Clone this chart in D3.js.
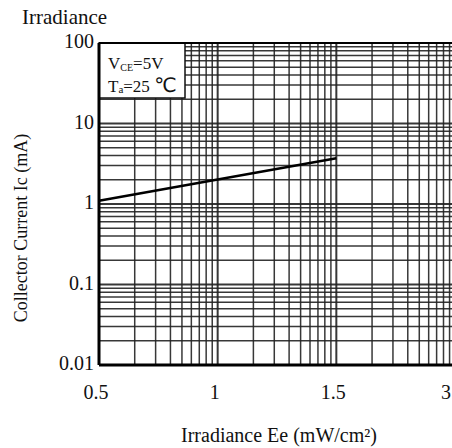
<!DOCTYPE html>
<html>
<head>
<meta charset="utf-8">
<script src="https://cdn.jsdelivr.net/npm/d3@7"></script>
<style>
  html, body { margin: 0; padding: 0; background: #fff; }
  svg { display: block; }
  text { font-family: "Liberation Serif", "Times New Roman", serif; fill: #111; }
</style>
</head>
<body>
<svg id="chart" width="452" height="448"></svg>
<script>
// ---- data ----
const xTickValues = [0.5, 1, 1.5, 3];
const xTickLabels = ["0.5", "1", "1.5", "3"];
const yTickValues = [0.01, 0.1, 1, 10, 100];
const yTickLabels = ["0.01", "0.1", "1", "10", "100"];
const curveX = [0.5, 1.5];
const curveY = [1.1, 3.7];
const title = "Irradiance";
const xTitle = "Irradiance Ee (mW/cm²)";
const yTitle = "Collector Current Ic (mA)";

// ---- layout ----
const L = 99, R = 455, T = 43, B = 365, W = 452;
const svg = d3.select("#chart");

// log grid scale for x (each labelled tick sits on a decade line)
const xGrid = d3.scaleLog().domain([1, 1000]).range([L, R]);
const xDecades = [1, 10, 100, 1000];
const x = d3.scaleLinear().domain(xTickValues).range(xDecades.map(d => xGrid(d)));
const y = d3.scaleLog().domain([0.01, 100]).range([B, T]);

svg.append("clipPath").attr("id", "plotclip")
  .append("rect").attr("x", L).attr("y", T).attr("width", R - L).attr("height", B - T);

const g = svg.append("g").attr("clip-path", "url(#plotclip)");

// vertical grid
const xg = xGrid.ticks();
g.selectAll("line.vx").data(xg).join("line")
  .attr("x1", d => xGrid(d)).attr("x2", d => xGrid(d))
  .attr("y1", T).attr("y2", B)
  .attr("stroke", "#222").attr("stroke-width", d => xDecades.includes(d) ? 2 : 1.5)
  .attr("stroke-opacity", 0.9);

// horizontal grid
const yg = y.ticks();
g.selectAll("line.hy").data(yg).join("line")
  .attr("x1", L).attr("x2", R)
  .attr("y1", d => y(d)).attr("y2", d => y(d))
  .attr("stroke", "#222").attr("stroke-width", d => yTickValues.includes(d) ? 2 : 1.5)
  .attr("stroke-opacity", 0.9);

// annotation box
const box = svg.append("g");
box.append("rect").attr("x", L).attr("y", T).attr("width", 86).attr("height", 55)
  .attr("fill", "#fff").attr("stroke", "#111").attr("stroke-width", 1.5);
const t1 = box.append("text").attr("x", 108).attr("y", 69).attr("font-size", 17);
t1.append("tspan").text("V");
t1.append("tspan").attr("font-size", 10).attr("dy", 2).text("CE");
t1.append("tspan").attr("dy", -2).text("=5V");
const t2 = box.append("text").attr("x", 108).attr("y", 92).attr("font-size", 17);
t2.append("tspan").text("T");
t2.append("tspan").attr("font-size", 11).attr("dy", 1).text("a");
t2.append("tspan").attr("dy", -1).text("=25 ");
t2.append("tspan").attr("font-size", 20).attr("font-family", "DejaVu Sans").text("℃");

// curve
const line = d3.line().x(d => x(d[0])).y(d => y(d[1]));
svg.append("path").datum(curveX.map((v, i) => [v, curveY[i]]))
  .attr("d", line).attr("fill", "none").attr("stroke", "#000").attr("stroke-width", 2.6);

// axes frame
svg.append("line").attr("x1", L).attr("x2", R).attr("y1", T).attr("y2", T)
  .attr("stroke", "#000").attr("stroke-width", 2.2);
svg.append("line").attr("x1", L).attr("x2", R).attr("y1", B).attr("y2", B)
  .attr("stroke", "#000").attr("stroke-width", 3);
svg.append("line").attr("x1", L).attr("x2", L).attr("y1", T).attr("y2", B)
  .attr("stroke", "#000").attr("stroke-width", 3);

// y tick labels
svg.selectAll("text.yt").data(yTickValues).join("text")
  .attr("x", L - 5).attr("y", d => y(d) - 2)
  .attr("text-anchor", "end").attr("dominant-baseline", "central")
  .attr("font-size", 20)
  .text((d, i) => yTickLabels[i]);

// x tick labels
svg.selectAll("text.xt").data(xTickValues).join("text")
  .attr("x", d => Math.min(x(d) - 3, W - 6)).attr("y", 392)
  .attr("text-anchor", "middle").attr("dominant-baseline", "central")
  .attr("font-size", 20)
  .text((d, i) => xTickLabels[i]);

// titles
svg.append("text").attr("x", 22).attr("y", 24).attr("font-size", 21).text(title);
svg.append("text").attr("x", 279).attr("y", 435).attr("text-anchor", "middle")
  .attr("dominant-baseline", "central").attr("font-size", 20).text(xTitle);
svg.append("text").attr("transform", "translate(21,228) rotate(-90)")
  .attr("text-anchor", "middle").attr("dominant-baseline", "central")
  .attr("font-size", 18).text(yTitle);
</script>
</body>
</html>
